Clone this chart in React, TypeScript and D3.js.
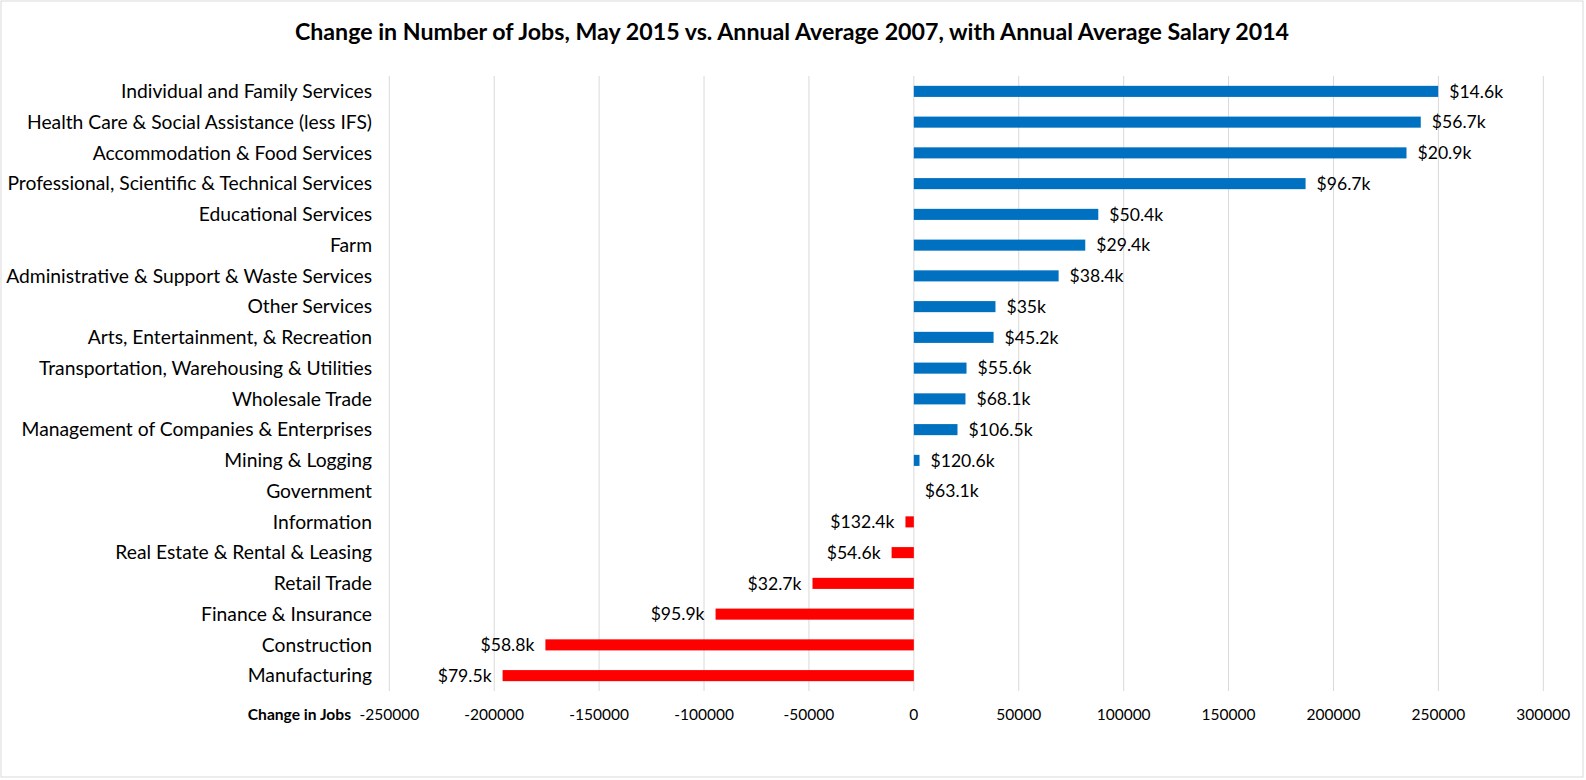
import { useEffect } from 'react';
import * as d3 from 'd3';

const categories = [
  'Individual and Family Services',
  'Health Care & Social Assistance (less IFS)',
  'Accommodation & Food Services',
  'Professional, Scientific & Technical Services',
  'Educational Services',
  'Farm',
  'Administrative & Support & Waste Services',
  'Other Services',
  'Arts, Entertainment, & Recreation',
  'Transportation, Warehousing & Utilities',
  'Wholesale Trade',
  'Management of Companies & Enterprises',
  'Mining & Logging',
  'Government',
  'Information',
  'Real Estate & Rental & Leasing',
  'Retail Trade',
  'Finance & Insurance',
  'Construction',
  'Manufacturing',
];

const jobChange = [
  249900, 241600, 234800, 186700, 87900, 81700, 69000, 38900, 38000, 25100,
  24600, 20800, 2700, 0, -4000, -10600, -48300, -94500, -175600, -196000,
];

const salaryLabels = [
  '$14.6k', '$56.7k', '$20.9k', '$96.7k', '$50.4k', '$29.4k', '$38.4k', '$35k',
  '$45.2k', '$55.6k', '$68.1k', '$106.5k', '$120.6k', '$63.1k', '$132.4k',
  '$54.6k', '$32.7k', '$95.9k', '$58.8k', '$79.5k',
];

const xTicks = d3.range(-250000, 300001, 50000);

const W = 1586;
const H = 780;
const plot = { left: 389.3, right: 1543.3, top: 76, bottom: 691 };
const FONT = 'Lato, "Open Sans", sans-serif';

export default function App() {
  useEffect(() => {
    document.body.style.margin = '0';
  }, []);

  const x = d3.scaleLinear().domain([-250000, 300000]).range([plot.left, plot.right]);
  const y = d3
    .scaleBand<string>()
    .domain(categories)
    .range([plot.top, plot.bottom])
    .paddingInner(0.64)
    .paddingOuter(0.32);
  const fmt = (t: number) => d3.format('d')(t).replace('\u2212', '-');

  return (
    <svg width={W} height={H} style={{ display: 'block', background: '#fff' }} fontFamily={FONT}>
      <rect x={1} y={1} width={1582} height={776} fill="#fff" stroke="#d9d9d9" strokeWidth={1} />
      <text x={792} y={40} textAnchor="middle" fontSize={23.2} fontWeight="bold" fill="#000">
        Change in Number of Jobs, May 2015 vs. Annual Average 2007, with Annual Average Salary 2014
      </text>

      {xTicks.map(t => (
        <line
          key={`g${t}`}
          x1={x(t)}
          x2={x(t)}
          y1={plot.top}
          y2={plot.bottom}
          stroke="#d9d9d9"
          strokeWidth={1}
        />
      ))}

      {categories.map((c, i) => {
        const v = jobChange[i];
        const y0 = y(c) ?? 0;
        const bh = y.bandwidth();
        const x0 = x(Math.min(0, v));
        const x1 = x(Math.max(0, v));
        const pos = v >= 0;
        return (
          <g key={c}>
            {x1 - x0 > 0 && (
              <rect x={x0} y={y0} width={x1 - x0} height={bh} fill={pos ? '#0070C0' : '#FF0000'} />
            )}
            <text
              x={pos ? x1 + 11 : x0 - 11}
              y={y0 + bh / 2}
              dy="0.35em"
              textAnchor={pos ? 'start' : 'end'}
              fontSize={17.6}
              fill="#000"
            >
              {salaryLabels[i]}
            </text>
            <text x={372} y={y0 + bh / 2} dy="0.35em" textAnchor="end" fontSize={19.3} fill="#000">
              {c}
            </text>
          </g>
        );
      })}

      {xTicks.map(t => (
        <text key={`t${t}`} x={x(t)} y={715} dy="0.35em" textAnchor="middle" fontSize={15.5} fill="#000">
          {fmt(t)}
        </text>
      ))}
      <text x={351} y={715} dy="0.35em" textAnchor="end" fontSize={15.6} fontWeight="bold" fill="#000">
        Change in Jobs
      </text>
    </svg>
  );
}
